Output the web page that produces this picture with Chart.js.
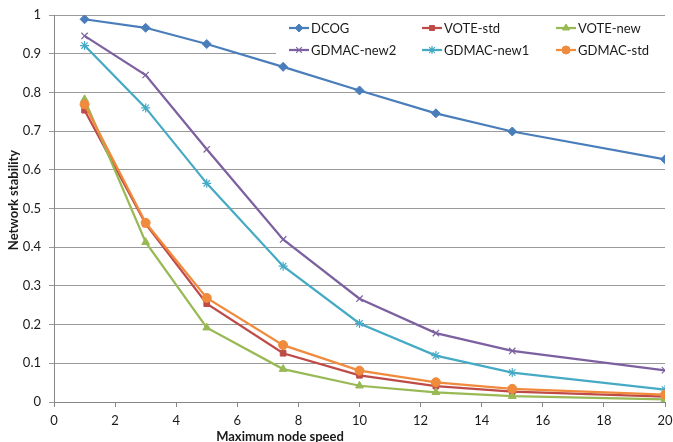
<!DOCTYPE html>
<html>
<head>
<meta charset="utf-8">
<script src="https://cdn.jsdelivr.net/npm/chart.js"></script>
<style>
  body { margin: 0; background: #fff; }
</style>
</head>
<body>
<canvas id="chart" width="673" height="442"></canvas>
<script>
const speeds = [1, 3, 5, 7.5, 10, 12.5, 15, 20];
const seriesNames = ["DCOG", "VOTE-std", "VOTE-new", "GDMAC-new2", "GDMAC-new1", "GDMAC-std"];
const dcog = [0.989, 0.967, 0.925, 0.866, 0.805, 0.746, 0.699, 0.627];
const voteStd = [0.754, 0.460, 0.254, 0.126, 0.069, 0.041, 0.027, 0.014];
const voteNew = [0.782, 0.413, 0.192, 0.085, 0.042, 0.025, 0.015, 0.007];
const gdmacNew2 = [0.946, 0.845, 0.653, 0.420, 0.267, 0.178, 0.132, 0.082];
const gdmacNew1 = [0.921, 0.760, 0.565, 0.351, 0.203, 0.120, 0.076, 0.032];
const gdmacStd = [0.769, 0.463, 0.269, 0.147, 0.081, 0.051, 0.034, 0.019];
const xTicks = [0, 2, 4, 6, 8, 10, 12, 14, 16, 18, 20];
const yTicks = [0, 0.1, 0.2, 0.3, 0.4, 0.5, 0.6, 0.7, 0.8, 0.9, 1];

const colors = ['#4A7EBB', '#BE4B48', '#98B954', '#7D60A0', '#46AAC5', '#F08A3C'];
const markers = ['rectRot', 'rect', 'triangle', 'crossRot', 'star', 'circle'];
const radii = [4.5, 4, 4.5, 4.5, 4.5, 4.5];
const allValues = [dcog, voteStd, voteNew, gdmacNew2, gdmacNew1, gdmacStd];

const FONT = 'Lato, "Liberation Sans", sans-serif';

const datasets = allValues.map((vals, i) => ({
  label: seriesNames[i],
  data: vals.map((v, j) => ({ x: speeds[j], y: v })),
  borderColor: colors[i],
  backgroundColor: colors[i],
  pointBackgroundColor: colors[i],
  pointBorderColor: colors[i],
  pointStyle: markers[i],
  pointRadius: radii[i],
  pointBorderWidth: (markers[i] == 'crossRot' || markers[i] == 'star') ? 1.2 : 1,
  borderWidth: 2.25,
  tension: 0,
  order: 6 - i
}));

// legend box + axis titles
const extras = {
  id: 'extras',
  afterDraw(chart) {
    const ctx = chart.ctx;
    ctx.save();
    ctx.fillStyle = '#fff';
    ctx.fillRect(276, 18, 394, 44);
    const cols = [289, 422, 556];
    const rows = [28, 50];
    ctx.font = '13px ' + FONT;
    ctx.textBaseline = 'middle';
    ctx.textAlign = 'left';
    seriesNames.forEach((name, i) => {
      const x = cols[i % 3], y = rows[Math.floor(i / 3)];
      ctx.strokeStyle = colors[i];
      ctx.lineWidth = 2.25;
      ctx.beginPath();
      ctx.moveTo(x, y);
      ctx.lineTo(x + 20, y);
      ctx.stroke();
      ctx.fillStyle = colors[i];
      ctx.lineWidth = datasets[i].pointBorderWidth;
      Chart.helpers.drawPoint(ctx, { pointStyle: markers[i], radius: radii[i] - 0.5, rotation: 0, borderWidth: datasets[i].pointBorderWidth }, x + 10, y);
      ctx.fillStyle = '#1a1a1a';
      ctx.fillText(name, x + 22, y + 0.5);
    });
    ctx.font = 'bold 13px ' + FONT;
    ctx.fillStyle = '#1a1a1a';
    ctx.textAlign = 'center';
    ctx.fillText('Maximum node speed', 280, 437);
    ctx.translate(14, 200);
    ctx.rotate(-Math.PI / 2);
    ctx.fillText('Network stability', 0, 0);
    ctx.restore();
  }
};

new Chart(document.getElementById('chart'), {
  type: 'line',
  data: { datasets: datasets },
  plugins: [extras],
  options: {
    responsive: false,
    animation: false,
    layout: { padding: { left: 0, right: 8, top: 15, bottom: 0 } },
    plugins: { legend: { display: false }, tooltip: { enabled: false } },
    scales: {
      x: {
        type: 'linear',
        min: 0, max: 20,
        afterFit: s => { s.height = 40; s.paddingLeft = 0; s.paddingRight = 0; },
        afterBuildTicks: s => { s.ticks = xTicks.map(v => ({ value: v })); },
        grid: { display: true, drawOnChartArea: false, color: '#868686', tickLength: 5 },
        border: { color: '#868686', width: 1 },
        ticks: { color: '#1a1a1a', font: { family: FONT, size: 13 }, padding: 6, maxRotation: 0 }
      },
      y: {
        min: 0, max: 1,
        afterFit: s => { s.width = 54; s.paddingTop = 0; s.paddingBottom = 0; },
        afterBuildTicks: s => { s.ticks = yTicks.map(v => ({ value: v })); },
        grid: { color: '#9a9a9a', tickLength: 5 },
        border: { color: '#868686', width: 1 },
        ticks: { color: '#1a1a1a', font: { family: FONT, size: 13 }, padding: 8,
          callback: v => String(Math.round(v * 10) / 10) }
      }
    }
  }
});
</script>
</body>
</html>
